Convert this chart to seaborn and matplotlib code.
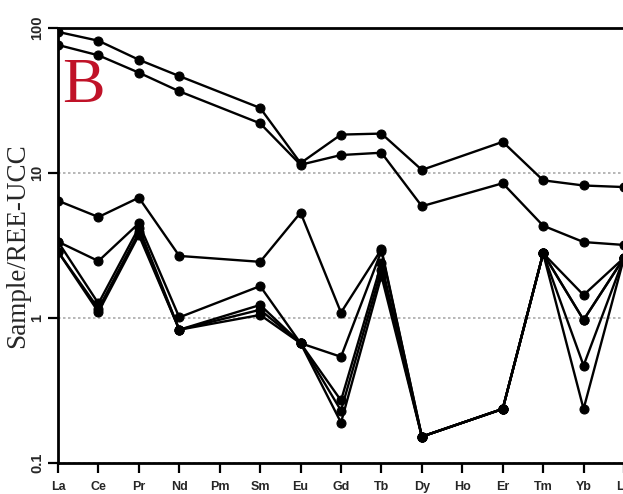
import numpy as np
import pandas as pd
import matplotlib
matplotlib.use('Agg')
import matplotlib.pyplot as plt
import seaborn as sns

sns.set_theme(style='white')
plt.rcParams['font.family'] = ['Liberation Sans', 'DejaVu Sans']

# REE axis (Pm and Ho are not measured)
elements = ['La', 'Ce', 'Pr', 'Nd', 'Pm', 'Sm', 'Eu', 'Gd', 'Tb', 'Dy', 'Ho', 'Er', 'Tm', 'Yb', 'Lu']
measured = ['La', 'Ce', 'Pr', 'Nd', 'Sm', 'Eu', 'Gd', 'Tb', 'Dy', 'Er', 'Tm', 'Yb', 'Lu']

# UCC-normalised values
s1 = [94, 81.7, 60.4, 46.6, 28.1, 11.7, 18.4, 18.7, 10.5, 16.4, 8.9, 8.2, 8.0]
s2 = [76.4, 64.8, 49.2, 36.6, 22.0, 11.4, 13.3, 13.8, 5.9, 8.5, 4.33, 3.34, 3.19]
s3 = [6.44, 4.97, 6.76, 2.68, 2.44, 5.33, 1.09, 2.98, 0.152, 0.236, 2.79, 1.44, 2.6]
s4 = [3.36, 2.47, 4.5, 1.01, 1.66, 0.67, 0.54, 2.9, 0.152, 0.236, 2.79, 0.97, 2.6]
s5 = [3.36, 1.26, 4.2, 0.83, 1.23, 0.67, 0.27, 2.38, 0.152, 0.236, 2.79, 0.47, 2.6]
s6 = [2.87, 1.16, 3.9, 0.83, 1.14, 0.67, 0.23, 2.15, 0.152, 0.236, 2.79, 0.236, 2.6]
s7 = [2.87, 1.10, 3.73, 0.83, 1.05, 0.67, 0.19, 1.95, 0.152, 0.236, 2.79, 0.97, 2.6]

samples = {'S1': s1, 'S2': s2, 'S3': s3, 'S4': s4, 'S5': s5, 'S6': s6, 'S7': s7}
frames = []
for name, vals in samples.items():
    frames.append(pd.DataFrame({
        'sample': name,
        'pos': [elements.index(e) for e in measured],
        'value': vals,
    }))
df = pd.concat(frames, ignore_index=True)

fig = plt.figure(figsize=(6.23, 4.94), dpi=100)
W, H = 623, 494
ax = fig.add_axes([58 / W, (H - 463) / H, 566 / W, 435 / H])

sns.lineplot(data=df, x='pos', y='value', units='sample', estimator=None,
             color='black', marker='o', markersize=6.5, markeredgecolor='black',
             linewidth=1.7, legend=False, ax=ax)

ax.set_yscale('log')
ax.set_ylim(0.1, 100)
ax.set_xlim(0, len(elements) - 1)

ax.set_yticks([0.1, 1, 10, 100])
ax.set_yticklabels(['0.1', '1', '10', '100'], rotation=90, va='center',
                   fontsize=10.5, fontweight='bold')
ax.yaxis.set_minor_locator(matplotlib.ticker.NullLocator())
ax.set_xticks(range(len(elements)))
ax.set_xticklabels(elements, fontsize=9, fontweight='bold')

ax.tick_params(axis='both', which='major', direction='out', length=7, width=1.6,
               color='black', left=True, bottom=True)
ax.tick_params(axis='x', pad=6)
ax.tick_params(axis='y', pad=3)

ax.grid(True, axis='y', which='major', linestyle=(0, (1.5, 1.5)), color='#aaaaaa', linewidth=1.2)
ax.set_axisbelow(True)

for side in ['left', 'top', 'bottom', 'right']:
    ax.spines[side].set_color('black')
    ax.spines[side].set_linewidth(2.0)

ax.set_xlabel('')
ax.set_ylabel('Sample/REE-UCC', family=['Liberation Serif', 'DejaVu Serif'],
              fontsize=19.5, labelpad=0)

ax.text(0.008, 0.83, 'B', transform=ax.transAxes, family=['Liberation Serif', 'DejaVu Serif'],
        fontsize=46, color='#c01228', ha='left', va='baseline')

fig.savefig('out.png', dpi=100, facecolor='white')
